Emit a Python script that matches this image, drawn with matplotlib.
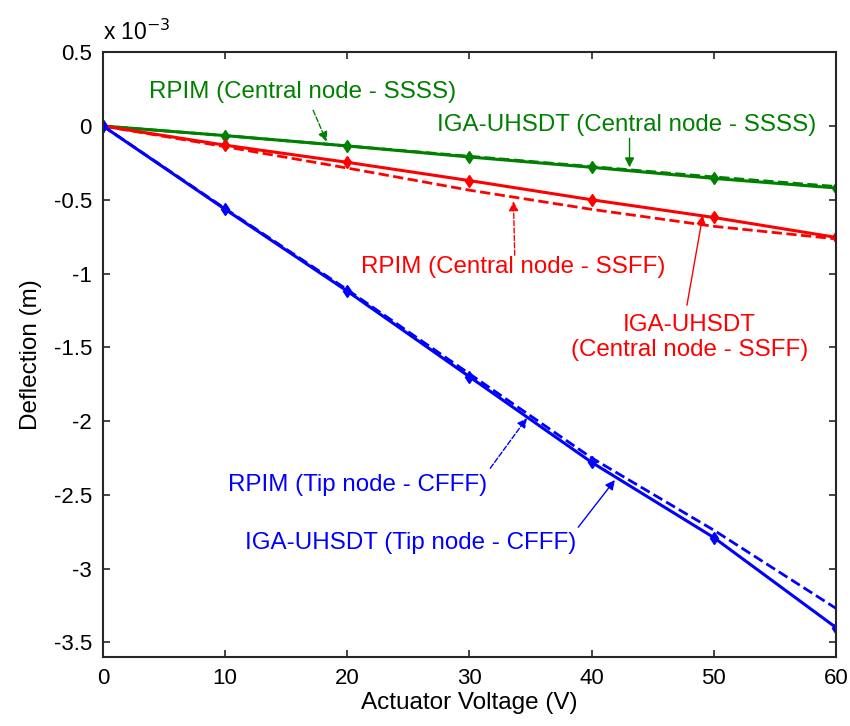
import numpy as np
import matplotlib
matplotlib.use('Agg')
import matplotlib.pyplot as plt

plt.rcParams['font.family'] = ['Liberation Sans', 'DejaVu Sans']

# actuator voltage (V) and deflection (x 1e-3 m)
volts = [0, 10, 20, 30, 40, 50, 60]
iga_ssss = [0, -0.065, -0.135, -0.21, -0.28, -0.355, -0.42]
rpim_ssss = [0, -0.065, -0.135, -0.205, -0.275, -0.345, -0.41]
iga_ssff = [0, -0.13, -0.246, -0.37, -0.50, -0.62, -0.755]
rpim_ssff = [0, -0.14, -0.285, -0.435, -0.565, -0.68, -0.765]
iga_cfff = [0, -0.565, -1.12, -1.70, -2.28, -2.79, -3.40]
rpim_cfff = [0, -0.56, -1.11, -1.68, -2.25, -2.74, -3.27]

green = '#008000'
red = '#ff0000'
blue = '#0000ff'

fig = plt.figure(figsize=(8.5, 7.26), dpi=100)
ax = fig.add_axes([0.1212, 0.095, 0.8623, 0.833])

ax.plot(volts, rpim_ssss, '--', color=green, lw=2.0)
ax.plot(volts, iga_ssss, '-', color=green, lw=2.2, marker='d', ms=6)
ax.plot(volts, rpim_ssff, '--', color=red, lw=2.0)
ax.plot(volts, iga_ssff, '-', color=red, lw=2.2, marker='d', ms=6)
ax.plot(volts, rpim_cfff, '--', color=blue, lw=2.0)
ax.plot(volts, iga_cfff, '-', color=blue, lw=2.2, marker='d', ms=6)

ax.set_xlim(0, 60)
ax.set_ylim(-3.6, 0.5)
ax.set_xticks(np.arange(0, 61, 10))
ax.set_yticks(np.arange(-3.5, 0.51, 0.5))
ax.set_yticklabels(['%g' % v for v in np.arange(-3.5, 0.51, 0.5)])
ax.tick_params(direction='in', length=5, width=1.2, top=True, right=True,
               labelsize=16, colors='#262626', labelcolor='black', pad=8)
for s in ax.spines.values():
    s.set_linewidth(1.5)
    s.set_color('#262626')

ax.set_xlabel('Actuator Voltage (V)', fontsize=17.5, labelpad=2)
ax.set_ylabel('Deflection (m)', fontsize=17.5, labelpad=8)
ax.text(0.0, 1.012, r'x 10$^{-3}$', transform=ax.transAxes, fontsize=16.5,
        ha='left', va='bottom')

fs = 17.4

def note(txt, col, tpos, tail, tip, ls):
    ax.text(tpos[0], tpos[1], txt, color=col, fontsize=fs, ha='center',
            va='center', multialignment='center')
    ax.annotate('', xy=tip, xytext=tail,
                arrowprops=dict(arrowstyle='-|>', color=col, lw=1.0,
                                linestyle=ls, mutation_scale=14,
                                shrinkA=0, shrinkB=0))

note('RPIM (Central node - SSSS)', green, (16.3, 0.229), (17.2, 0.107), (18.3, -0.105), '--')
note('IGA-UHSDT (Central node - SSSS)', green, (42.9, 0.005), (43.1, -0.083), (43.1, -0.28), '-')
note('RPIM (Central node - SSFF)', red, (33.6, -0.958), (33.7, -0.876), (33.6, -0.51), '--')
note('IGA-UHSDT\n(Central node - SSFF)', red, (48.0, -1.432), (47.8, -1.215), (49.1, -0.605), '-')
note('RPIM (Tip node - CFFF)', blue, (20.8, -2.436), (31.7, -2.32), (34.7, -1.98), '--')
note('IGA-UHSDT (Tip node - CFFF)', blue, (25.2, -2.83), (38.9, -2.72), (41.9, -2.40), '-')

fig.savefig('out.png', dpi=100, facecolor='white')
